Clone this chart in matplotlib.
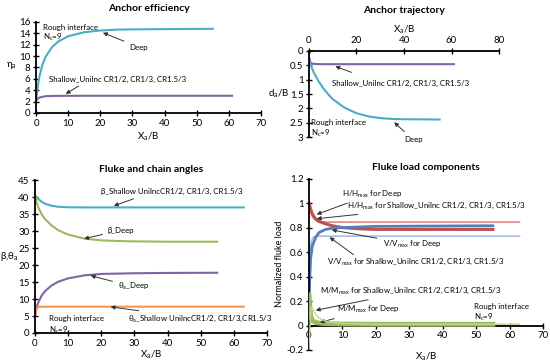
import matplotlib.pyplot as plt

plt.rcParams['font.family'] = ['Lato', 'DejaVu Sans']
plt.rcParams['font.size'] = 7
plt.rcParams['mathtext.fontset'] = 'custom'
plt.rcParams['mathtext.rm'] = 'Lato'
plt.rcParams['mathtext.it'] = 'Lato'

# ---- Anchor efficiency ----
eff_deep_x = [0, 0.5, 1, 2, 3, 5, 7, 10, 15, 20, 25, 30, 40, 55]
eff_deep_y = [2.0, 4.5, 6.3, 8.5, 9.9, 11.6, 12.6, 13.5, 14.2, 14.5, 14.65, 14.7, 14.75, 14.8]
eff_sh_x = [0, 0.5, 1, 2, 3, 5, 10, 20, 61]
eff_sh_y = [2.2, 2.5, 2.7, 2.85, 2.95, 3.0, 3.02, 3.03, 3.03]

# ---- Anchor trajectory ----
tr_sh_x = [0, 0.5, 1, 2, 5, 10, 61]
tr_sh_y = [0.2, 0.38, 0.43, 0.45, 0.46, 0.46, 0.46]
tr_deep_x = [0, 1, 2, 4, 6, 8, 10, 15, 20, 25, 30, 35, 40, 55]
tr_deep_y = [0.3, 0.55, 0.75, 1.05, 1.3, 1.5, 1.68, 1.98, 2.17, 2.28, 2.34, 2.37, 2.38, 2.39]

# ---- Fluke and chain angles ----
b_sh_x = [0, 1, 2, 3, 5, 7, 10, 15, 63]
b_sh_y = [40.5, 39.5, 38.7, 38.1, 37.5, 37.2, 37.05, 37.0, 37.0]
b_deep_x = [0, 0.5, 1, 2, 3, 5, 7, 10, 15, 20, 25, 30, 40, 55]
b_deep_y = [41, 38.5, 37, 35, 33.6, 31.7, 30.3, 29.0, 27.8, 27.3, 27.1, 27.0, 26.9, 26.9]
th_deep_x = [0, 0.5, 1, 2, 3, 5, 7, 10, 15, 20, 30, 40, 55]
th_deep_y = [5, 7.5, 9, 11, 12.3, 14, 15.1, 16.1, 17, 17.4, 17.6, 17.7, 17.75]
th_sh_x = [0, 0.3, 0.7, 1, 2, 63]
th_sh_y = [5, 6.8, 7.5, 7.7, 7.75, 7.75]

# ---- Fluke load components ----
h_deep_x = [0, 0.5, 1, 2, 3, 5, 7, 10, 15, 20, 30, 55]
h_deep_y = [1.0, 0.95, 0.91, 0.87, 0.85, 0.83, 0.815, 0.8, 0.79, 0.785, 0.785, 0.785]
h_sh_x = [0, 0.5, 1, 2, 3, 5, 63]
h_sh_y = [0.98, 0.93, 0.89, 0.86, 0.85, 0.845, 0.845]
v_deep_x = [0, 0.2, 0.5, 1, 2, 3, 5, 7, 10, 20, 55]
v_deep_y = [0, 0.35, 0.55, 0.65, 0.72, 0.76, 0.785, 0.795, 0.8, 0.81, 0.815]
v_sh_x = [0, 0.2, 0.5, 1, 1.5, 2, 63]
v_sh_y = [0.3, 0.55, 0.66, 0.71, 0.725, 0.73, 0.73]
m_sh_x = [0, 0.3, 0.6, 1, 2, 3, 5, 8, 12, 20, 30, 63]
m_sh_y = [-0.2, 0.0, 0.15, 0.14, 0.09, 0.06, 0.035, 0.02, 0.015, 0.01, 0.01, 0.01]
m_deep_x = [0, 0.5, 1, 2, 3, 5, 10, 20, 55]
m_deep_y = [0.25, 0.08, 0.04, 0.025, 0.02, 0.015, 0.012, 0.01, 0.01]

cyan = '#4BACC6'
purple = '#8064A2'
green = '#9BBB59'
orange = '#F79646'
red = '#C0504D'
blue = '#4F81BD'

arr = dict(arrowstyle='-|>', color='#333333', lw=0.7, mutation_scale=6)
fs = 5.7


def style(ax):
    for s in ['top', 'right']:
        ax.spines[s].set_visible(False)
    for s in ['left', 'bottom']:
        ax.spines[s].set_linewidth(1.3)
    ax.tick_params(direction='inout', length=4, width=1.0, labelsize=7, pad=2)


fig = plt.figure(figsize=(5.5, 3.64), dpi=100)

# Anchor efficiency
ax1 = fig.add_axes([0.0655, 0.6896, 0.409, 0.25])
style(ax1)
ax1.plot(eff_deep_x, eff_deep_y, color=cyan, lw=1.5)
ax1.plot(eff_sh_x, eff_sh_y, color=purple, lw=1.5)
ax1.set_xlim(0, 70)
ax1.set_ylim(0, 16)
ax1.set_xticks(range(0, 71, 10))
ax1.set_yticks(range(0, 17, 2))
ax1.set_title('Anchor efficiency', fontsize=7.5, fontweight='bold', pad=8)
ax1.set_xlabel('X$_a$/B', labelpad=2)
ax1.set_ylabel('η$_a$', rotation=0, va='center', ha='center')
ax1.yaxis.set_label_coords(-0.11, 0.52)
ax1.text(2.3, 15.7, 'Rough interface\nN$_c$=9', va='top', fontsize=fs, linespacing=1.2)
ax1.annotate('Deep', xy=(20, 14.3), xytext=(29, 11.6), fontsize=fs, va='center', arrowprops=arr)
ax1.annotate('Shallow_Unilnc CR1/2, CR1/3, CR1.5/3', xy=(8.5, 3.1), xytext=(4, 5.9),
             fontsize=fs, va='center')
ax1.annotate('', xy=(8.5, 3.1), xytext=(14, 5.0), arrowprops=arr)

# Anchor trajectory
ax2 = fig.add_axes([0.5618, 0.6236, 0.3455, 0.2363])
style(ax2)
ax2.spines['bottom'].set_visible(False)
ax2.spines['top'].set_visible(True)
ax2.spines['top'].set_linewidth(1.3)
ax2.xaxis.tick_top()
ax2.xaxis.set_label_position('top')
ax2.plot(tr_sh_x, tr_sh_y, color=purple, lw=1.5)
ax2.plot(tr_deep_x, tr_deep_y, color=cyan, lw=1.5)
ax2.set_xlim(0, 80)
ax2.set_ylim(3, 0)
ax2.set_xticks(range(0, 81, 20))
ax2.set_yticks([0, 0.5, 1, 1.5, 2, 2.5, 3])
ax2.set_yticklabels(['0', '0.5', '1', '1.5', '2', '2.5', '3'])
ax2.tick_params(top=True, bottom=False)
ax2.set_title('Anchor trajectory', fontsize=7.5, fontweight='bold', pad=27)
ax2.set_xlabel('X$_a$/B', labelpad=3)
ax2.set_ylabel('d$_a$/B', rotation=0, va='center', ha='center')
ax2.yaxis.set_label_coords(-0.16, 0.5)
ax2.annotate('Shallow_Unilnc CR1/2, CR1/3, CR1.5/3', xy=(10, 0.5), xytext=(9.7, 1.15),
             fontsize=fs, va='center')
ax2.annotate('', xy=(10, 0.5), xytext=(19, 0.78), arrowprops=arr)
ax2.annotate('Deep', xy=(35, 2.42), xytext=(40, 3.08), fontsize=fs, va='center')
ax2.annotate('', xy=(35, 2.42), xytext=(41, 2.88), arrowprops=arr)
ax2.text(0.8, 2.38, 'Rough interface\nN$_c$=9', va='top', fontsize=fs, linespacing=1.2)

# Fluke and chain angles
ax3 = fig.add_axes([0.0636, 0.0852, 0.4218, 0.4195])
style(ax3)
ax3.plot(b_sh_x, b_sh_y, color=cyan, lw=1.5)
ax3.plot(b_deep_x, b_deep_y, color=green, lw=1.5)
ax3.plot(th_deep_x, th_deep_y, color=purple, lw=1.5)
ax3.plot(th_sh_x, th_sh_y, color=orange, lw=1.5)
ax3.set_xlim(0, 70)
ax3.set_ylim(0, 45)
ax3.set_xticks(range(0, 71, 10))
ax3.set_yticks(range(0, 46, 5))
ax3.set_title('Fluke and chain angles', fontsize=7.5, fontweight='bold', pad=6)
ax3.set_xlabel('X$_a$/B')
ax3.xaxis.set_label_coords(0.5, -0.1)
ax3.set_ylabel('β,θ$_a$', rotation=0, va='center', ha='center')
ax3.yaxis.set_label_coords(-0.11, 0.5)
ax3.annotate('β_Shallow UnilncCR1/2, CR1/3, CR1.5/3', xy=(23, 37.2), xytext=(20, 41.8),
             fontsize=fs, va='center')
ax3.annotate('', xy=(23, 37.2), xytext=(30.5, 39.8), arrowprops=arr)
ax3.annotate('β_Deep', xy=(14, 27.6), xytext=(22, 30.3), fontsize=fs, va='center', arrowprops=arr)
ax3.annotate('θ$_a$_Deep', xy=(16, 17.1), xytext=(25, 13.6), fontsize=fs, va='center', arrowprops=arr)
ax3.annotate('θ$_a$_Shallow UnilncCR1/2, CR1/3,CR1.5/3', xy=(22, 7.8), xytext=(28, 4.1),
             fontsize=fs, va='center', arrowprops=arr)
ax3.text(4.3, 5.2, 'Rough interface\nN$_c$=9', va='top', fontsize=fs, linespacing=1.3)

# Fluke load components
ax4 = fig.add_axes([0.5618, 0.0385, 0.4255, 0.4708])
style(ax4)
ax4.spines['bottom'].set_position(('data', 0))
ax4.plot(m_deep_x, m_deep_y, color=green, lw=3.5, zorder=3)
ax4.plot(m_sh_x, m_sh_y, color='#C4D79B', lw=1.0, zorder=4)
ax4.plot(h_sh_x, h_sh_y, color='#D9706E', lw=1.0)
ax4.plot(h_deep_x, h_deep_y, color=red, lw=2.2)
ax4.plot(v_sh_x, v_sh_y, color='#95B3D7', lw=1.0)
ax4.plot(v_deep_x, v_deep_y, color=blue, lw=2.0)
ax4.set_xlim(0, 70)
ax4.set_ylim(-0.2, 1.2)
ax4.set_xticks(range(0, 71, 10))
ax4.set_yticks([-0.2, 0, 0.2, 0.4, 0.6, 0.8, 1, 1.2])
ax4.set_yticklabels(['-0.2', '0', '0.2', '0.4', '0.6', '0.8', '1', '1.2'])
ax4.set_title('Fluke load components', fontsize=7.5, fontweight='bold', pad=6)
ax4.set_xlabel('X$_a$/B', va='top')
ax4.xaxis.set_label_coords(0.5, -0.005)
ax4.set_ylabel('Normalized fluke load', fontsize=6.5, labelpad=2)
ax4.annotate('H/H$_{max}$ for Deep', xy=(1.5, 0.9), xytext=(10, 1.075), fontsize=fs, va='center', arrowprops=arr)
ax4.annotate('H/H$_{max}$ for Shallow_Unilnc CR1/2, CR1/3, CR1.5/3', xy=(1.5, 0.87), xytext=(11.5, 0.975),
             fontsize=fs, va='center', arrowprops=arr)
ax4.annotate('V/V$_{max}$ for Deep', xy=(6, 0.785), xytext=(22, 0.66), fontsize=fs, va='center', arrowprops=arr)
ax4.annotate('V/V$_{max}$ for Shallow_Unilnc CR1/2, CR1/3, CR1.5/3', xy=(5.5, 0.735), xytext=(5.5, 0.52),
             fontsize=fs, va='center')
ax4.annotate('', xy=(5.5, 0.735), xytext=(14, 0.565), arrowprops=arr)
ax4.annotate('M/M$_{max}$ for Shallow_Unilnc CR1/2, CR1/3, CR1.5/3', xy=(1.2, 0.12), xytext=(3.3, 0.28),
             fontsize=fs, va='center', arrowprops=arr)
ax4.annotate('M/M$_{max}$ for Deep', xy=(2.5, 0.02), xytext=(8.5, 0.13), fontsize=fs, va='center', arrowprops=arr)
ax4.text(49.5, 0.185, 'Rough interface\nN$_c$=9', va='top', fontsize=fs, linespacing=1.2)

fig.savefig('out.png', dpi=100)
